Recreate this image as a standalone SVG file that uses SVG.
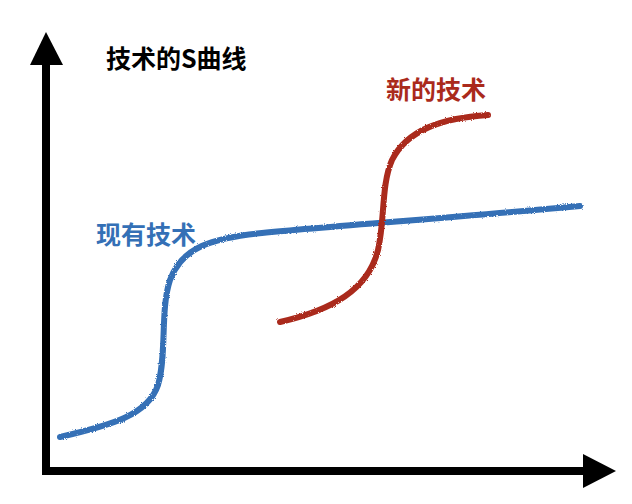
<svg xmlns="http://www.w3.org/2000/svg" width="632" height="504" viewBox="0 0 632 504">
<defs>
<style>
.lbl{font-family:"Noto Sans CJK SC","Liberation Sans",sans-serif;font-weight:bold;font-size:25px}
.axis{stroke:#000;stroke-width:8;fill:none}
.curve{fill:none;stroke-width:6;stroke-linecap:round;filter:url(#rough)}
</style>
<filter id="rough" x="-5%" y="-5%" width="110%" height="110%">
<feTurbulence type="fractalNoise" baseFrequency="0.9" numOctaves="2" result="n"/>
<feDisplacementMap in="SourceGraphic" in2="n" scale="2.5"/>
</filter>
</defs>
<rect width="632" height="504" fill="#fff"/>
<g id="axes">
<path class="axis" d="M46,471 V60"/>
<polygon points="46,32 30,65 63,65" fill="#000"/>
<path class="axis" d="M42,471 H588"/>
<polygon points="616,471 583,454 583,488" fill="#000"/>
</g>
<g id="title"><text class="lbl" x="106" y="68" fill="#000">技术的S曲线</text></g>
<g id="connectors">
<path id="existing" class="curve" stroke="#3470b6" d="M60,437 C112,425 148,415 158,385 C167,355 160,310 170,280 C182,247 212,238 262,233 C330,226 450,218 580,206"/>
<path id="new" class="curve" stroke="#aa2a1c" d="M280,322 C332,310 368,290 378,250 C385,220 381,185 392,160 C407,130 442,118 488,115"/>
</g>
<g id="label-existing"><text class="lbl" x="96" y="244" fill="#3470b6">现有技术</text></g>
<g id="label-new"><text class="lbl" x="386" y="99" fill="#aa2a1c">新的技术</text></g>
</svg>
